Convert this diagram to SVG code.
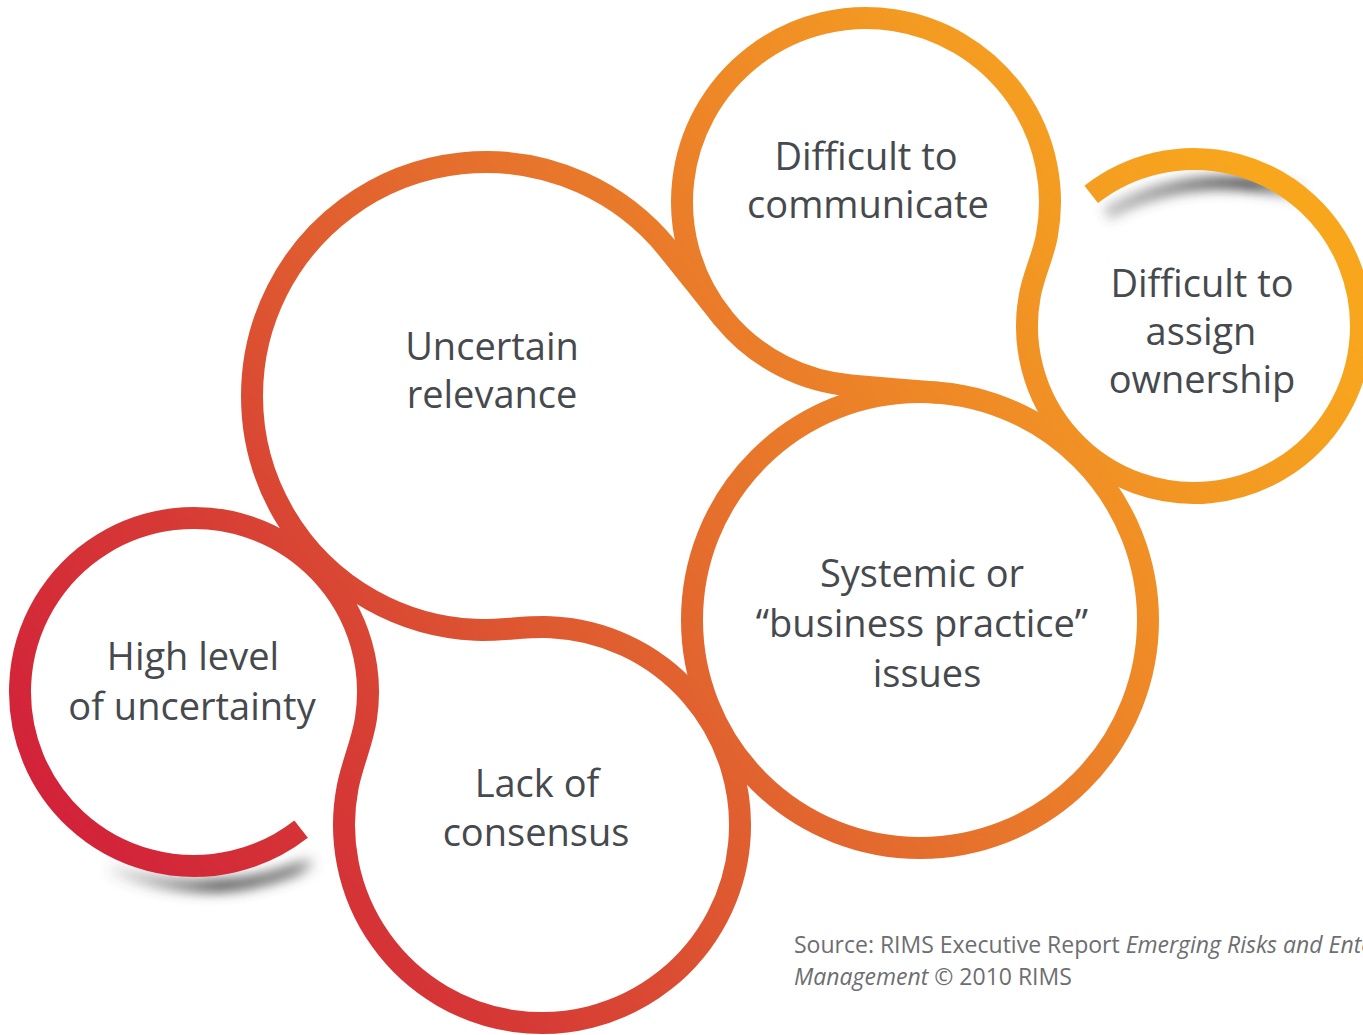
<svg xmlns="http://www.w3.org/2000/svg" width="1363" height="1035" viewBox="0 0 1363 1035">
  <defs>
    <!-- warm ribbon colour: crimson at the lower left, amber at the upper right -->
    <linearGradient id="ribbonFill" gradientUnits="userSpaceOnUse" x1="0" y1="743" x2="1114" y2="-37">
      <stop offset="0" stop-color="#D2223A"/>
      <stop offset="0.2" stop-color="#D63A35"/>
      <stop offset="0.35" stop-color="#DD5531"/>
      <stop offset="0.5" stop-color="#E46C2D"/>
      <stop offset="0.7" stop-color="#EE8727"/>
      <stop offset="0.85" stop-color="#F39A22"/>
      <stop offset="1" stop-color="#F8A71D"/>
    </linearGradient>
    <linearGradient id="shadeLeft" gradientUnits="userSpaceOnUse" x1="100" y1="0" x2="318" y2="0">
      <stop offset="0" stop-color="#4a4a4a" stop-opacity="0"/>
      <stop offset="0.55" stop-color="#4a4a4a" stop-opacity="0.85"/>
      <stop offset="0.9" stop-color="#4a4a4a" stop-opacity="0.65"/>
      <stop offset="1" stop-color="#4a4a4a" stop-opacity="0"/>
    </linearGradient>
    <linearGradient id="shadeRight" gradientUnits="userSpaceOnUse" x1="1100" y1="0" x2="1318" y2="0">
      <stop offset="0" stop-color="#4a4a4a" stop-opacity="0.3"/>
      <stop offset="0.7" stop-color="#4a4a4a" stop-opacity="0.95"/>
      <stop offset="1" stop-color="#4a4a4a" stop-opacity="0"/>
    </linearGradient>
    <filter id="soft" x="-20%" y="-100%" width="140%" height="300%">
      <feGaussianBlur stdDeviation="6"/>
    </filter>
  </defs>
  <style>
    .band { fill: none; stroke: url(#ribbonFill); stroke-width: 22; stroke-linecap: butt; stroke-linejoin: round; }
    .shade { fill: none; stroke-width: 14; filter: url(#soft); }
    .lbl { font-family: "Open Sans", "Noto Sans", sans-serif; font-size: 38px; fill: #46494d; text-anchor: middle; }
    .src { font-family: "Open Sans", "Noto Sans", sans-serif; font-size: 23px; fill: #6d6e71; }
  </style>

  <rect width="1363" height="1035" fill="#ffffff"/>

  <!-- soft shadows under the two loose ends -->
  <g id="shadows">
    <path class="shade" stroke="url(#shadeLeft)" d="M108,868 Q215,907 314,862"/>
    <path class="shade" stroke="url(#shadeRight)" d="M1106,214 Q1195,164 1302,194"/>
  </g>

  <!-- the ribbon: circle arcs blended into each other where the loops touch -->
  <g id="connectors">
    <!-- ownership loop, S-bend into the communicate loop, which then runs into the top of the systemic loop -->
    <path class="band" d="M1091.2,194.4 A167,167 0 1 1 1029.9,295.0
      C1033.6,275.3 1043.1,255.9 1046.8,236.2
      A184,184 0 1 0 851.1,385.4
      C880.0,387.7 909.5,390.5 938.4,392.8"/>
    <!-- uncertainty loop, S-bend into the consensus loop, S-bend into the relevance loop, which runs into the communicate loop -->
    <path class="band" d="M301.1,829.1 A174,174 0 1 1 365.9,719.0
      C362.2,742.7 352.1,763.9 347.6,787.5
      A198,198 0 1 0 550.8,627.2
      C525.8,626.1 500.5,630.9 475.5,629.8
      A234,234 0 1 1 667.8,248.7
      C686.1,271.2 704.7,295.3 723.0,317.8"/>
    <!-- business practice loop -->
    <circle class="band" cx="920" cy="620" r="228"/>
  </g>

  <g id="node-communicate">
    <text class="lbl" x="866" y="170">Difficult to</text>
    <text class="lbl" x="868" y="218">communicate</text>
  </g>
  <g id="node-ownership">
    <text class="lbl" x="1202" y="297">Difficult to</text>
    <text class="lbl" x="1201" y="345">assign</text>
    <text class="lbl" x="1202" y="393">ownership</text>
  </g>
  <g id="node-relevance">
    <text class="lbl" x="492" y="360">Uncertain</text>
    <text class="lbl" x="492" y="408">relevance</text>
  </g>
  <g id="node-systemic">
    <text class="lbl" x="922" y="587">Systemic or</text>
    <text class="lbl" x="922" y="637">“business practice”</text>
    <text class="lbl" x="927" y="687">issues</text>
  </g>
  <g id="node-uncertainty">
    <text class="lbl" x="193" y="670">High level</text>
    <text class="lbl" x="192" y="720">of uncertainty</text>
  </g>
  <g id="node-consensus">
    <text class="lbl" x="537" y="797">Lack of</text>
    <text class="lbl" x="536" y="846">consensus</text>
  </g>

  <g id="source-note">
    <text class="src" x="794" y="953">Source: RIMS Executive Report <tspan font-style="italic">Emerging Risks and Enterprise Risk</tspan></text>
    <text class="src" x="794" y="985"><tspan font-style="italic">Management</tspan> © 2010 RIMS</text>
  </g>
</svg>
